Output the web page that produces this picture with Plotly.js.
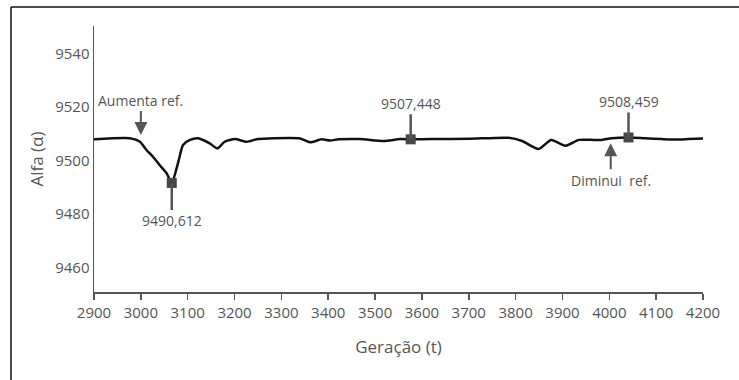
<!DOCTYPE html>
<html>
<head>
<meta charset="utf-8">
<script src="https://cdn.plot.ly/plotly-3.0.1.min.js"></script>
<style>html,body{margin:0;padding:0;background:#fff;}#chart{width:739px;height:380px;}</style>
</head>
<body>
<div id="chart"></div>
<script>
// Generation (t) and Alfa values
const geracao = [2900, 2976, 2998, 3012, 3026, 3040, 3055, 3066, 3080, 3090, 3105, 3122, 3147, 3163, 3179, 3201, 3226, 3247, 3272, 3340, 3361, 3386, 3404, 3422, 3468, 3518, 3554, 3576, 3620, 3700, 3785, 3814, 3849, 3876, 3906, 3935, 3967, 3984, 4005, 4041, 4076, 4112, 4148, 4169, 4200];
const alfa    = [9507.9, 9508.3, 9507.0, 9503.9, 9501.4, 9498.3, 9495.2, 9491.6, 9499.5, 9505.8, 9507.7, 9508.3, 9506.4, 9504.5, 9507.0, 9508.0, 9507.0, 9507.9, 9508.2, 9508.2, 9506.8, 9507.9, 9507.5, 9507.9, 9508.0, 9507.3, 9508.0, 9507.9, 9508.0, 9508.1, 9508.5, 9507.3, 9504.3, 9507.7, 9505.5, 9507.7, 9507.7, 9507.7, 9508.3, 9508.6, 9508.3, 9508.0, 9507.8, 9508.0, 9508.2];

// highlighted points
const markT = [3066, 3576, 4041];
const markV = [9491.6, 9507.9, 9508.6];
const markLabels = ["9490,612", "9507,448", "9508,459"];
const markOffsets = [38, -36, -36];

// reference change arrows
const refT = [3000, 4003];
const refV = [9509.5, 9506.4];
const refLabels = ["Aumenta ref.", "Diminui\u00a0 ref."];
const refOffsets = [-35, 37];

const FONT = '"Open Sans", "Noto Sans", sans-serif';
const GRAY = '#555555';

const traces = [
  {x: geracao, y: alfa, type: 'scatter', mode: 'lines',
   line: {color: '#111111', width: 2.5, shape: 'spline', smoothing: 0.6},
   hoverinfo: 'skip', showlegend: false},
  {x: markT, y: markV, type: 'scatter', mode: 'markers',
   marker: {symbol: 'square', size: 10, color: '#474747'},
   showlegend: false}
];

const annotations = [];
markT.forEach((t, i) => annotations.push({
  x: t, y: markV[i], xref: 'x', yref: 'y', text: markLabels[i],
  showarrow: true, arrowhead: 0, arrowwidth: 2.5, arrowcolor: GRAY,
  ax: 0, ay: markOffsets[i], standoff: 0,
  font: {family: FONT, size: 14, color: GRAY}
}));
refT.forEach((t, i) => annotations.push({
  x: t, y: refV[i], xref: 'x', yref: 'y', text: refLabels[i],
  showarrow: true, arrowhead: 2, arrowsize: 1.3, arrowwidth: 2, arrowcolor: GRAY,
  ax: 0, ay: refOffsets[i], standoff: 0,
  font: {family: FONT, size: 14, color: GRAY}
}));

const layout = {
  width: 739, height: 380,
  margin: {l: 94, r: 36, t: 26, b: 88},
  paper_bgcolor: '#ffffff', plot_bgcolor: '#ffffff',
  font: {family: FONT, color: GRAY, size: 14},
  showlegend: false,
  xaxis: {
    range: [2900, 4200], tickvals: [2900,3000,3100,3200,3300,3400,3500,3600,3700,3800,3900,4000,4100,4200],
    showgrid: false, zeroline: false, showline: true, linecolor: GRAY, linewidth: 1.5,
    ticks: 'outside', ticklen: 6, tickwidth: 1.5, tickcolor: GRAY,
    tickfont: {family: FONT, size: 15, color: GRAY},
    title: {text: 'Geração (t)', font: {family: FONT, size: 17, color: GRAY}, standoff: 20}
  },
  yaxis: {
    range: [9450.8, 9550.3], tickvals: [9460, 9480, 9500, 9520, 9540],
    showgrid: false, zeroline: false, showline: true, linecolor: GRAY, linewidth: 1.5,
    ticks: '', tickfont: {family: FONT, size: 15, color: GRAY},
    title: {text: 'Alfa (α)', font: {family: FONT, size: 17, color: GRAY}, standoff: 7}
  },
  annotations: annotations,
  shapes: [
    {type: 'line', xref: 'paper', yref: 'paper', x0: -0.1363, x1: -0.1363, y0: -0.4, y1: 1.0714,
     line: {color: '#111111', width: 1.5}},
    {type: 'line', xref: 'paper', yref: 'paper', x0: -0.1363, x1: 1.1, y0: 1.0714, y1: 1.0714,
     line: {color: '#111111', width: 1.5}}
  ]
};

Plotly.newPlot('chart', traces, layout, {displayModeBar: false, staticPlot: true});
</script>
</body>
</html>
